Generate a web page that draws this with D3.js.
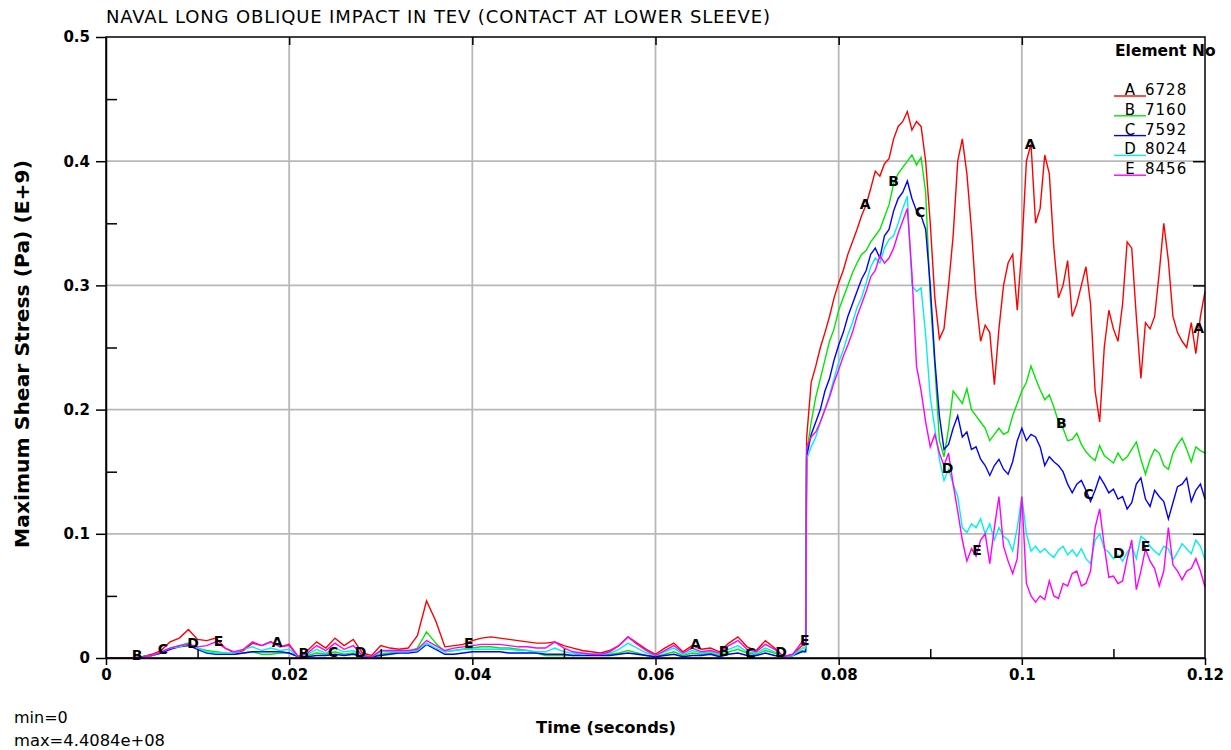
<!DOCTYPE html>
<html>
<head>
<meta charset="utf-8">
<script src="https://cdn.jsdelivr.net/npm/d3@7"></script>
<style>
  body { margin: 0; background: #fff; }
  text { font-family: "DejaVu Sans", sans-serif; }
</style>
</head>
<body>
<svg id="chart" width="1231" height="750"></svg>
<script>
// sample times: 1 ms steps before the impact, 0.5 ms steps after it
var earlyTime = d3.range(77).map(i => i / 1000);
var lateTime = d3.range(88).map(i => 0.0765 + i * 0.0005);
var time = earlyTime.concat([0.0764], lateTime);

// element 6728 (A)
var elemA = [
  0,0,0,0,0.001,0.003,0.006,0.013,0.016,0.023,
  0.015,0.014,0.016,0.008,0.004,0.006,0.012,0.010,0.013,0.009,
  0.011,0.001,0.006,0.013,0.008,0.016,0.010,0.015,0.004,0.002,
  0.010,0.008,0.007,0.008,0.018,0.046,0.030,0.009,0.010,0.011,
  0.014,0.016,0.017,0.016,0.015,0.014,0.013,0.012,0.012,0.013,
  0.010,0.008,0.006,0.005,0.004,0.006,0.010,0.017,0.012,0.007,
  0.003,0.008,0.012,0.005,0.010,0.007,0.008,0.005,0.012,0.017,
  0.009,0.006,0.014,0.008,0.001,0.003,0.010,
  0.010,
  0.177,0.222,0.235,0.250,0.262,0.275,0.290,0.302,0.312,0.325,
  0.335,0.345,0.356,0.365,0.378,0.392,0.388,0.398,0.402,0.418,
  0.428,0.432,0.440,0.425,0.432,0.428,0.400,0.350,0.290,0.257,
  0.265,0.300,0.340,0.400,0.418,0.390,0.345,0.290,0.255,0.268,
  0.262,0.220,0.265,0.300,0.318,0.325,0.280,0.330,0.400,0.414,
  0.350,0.362,0.405,0.390,0.330,0.290,0.300,0.320,0.275,0.285,
  0.300,0.315,0.285,0.215,0.190,0.250,0.280,0.265,0.255,0.285,
  0.335,0.330,0.275,0.225,0.270,0.265,0.275,0.310,0.350,0.320,
  0.275,0.262,0.255,0.250,0.270,0.245,0.275,0.295
];

// element 7160 (B)
var elemB = [
  0,0,0,0,0.001,0.002,0.004,0.008,0.010,0.012,
  0.008,0.006,0.005,0.004,0.003,0.004,0.005,0.003,0.003,0.004,
  0.004,0.001,0.002,0.004,0.003,0.005,0.003,0.004,0.001,0.001,
  0.003,0.004,0.005,0.005,0.008,0.021,0.012,0.005,0.006,0.007,
  0.008,0.009,0.009,0.008,0.008,0.007,0.006,0.004,0.002,0.002,
  0.002,0.002,0.003,0.003,0.003,0.003,0.004,0.006,0.004,0.002,
  0.001,0.003,0.005,0.002,0.004,0.003,0.004,0.002,0.005,0.007,
  0.004,0.003,0.006,0.004,0.001,0.002,0.006,
  0.006,
  0.165,0.190,0.210,0.225,0.240,0.255,0.265,0.280,0.290,0.300,
  0.310,0.318,0.325,0.328,0.335,0.340,0.345,0.355,0.365,0.382,
  0.390,0.395,0.400,0.405,0.397,0.403,0.375,0.290,0.235,0.175,
  0.162,0.185,0.215,0.210,0.205,0.217,0.200,0.195,0.190,0.185,
  0.175,0.180,0.185,0.180,0.182,0.195,0.205,0.215,0.222,0.235,
  0.225,0.216,0.208,0.212,0.202,0.190,0.185,0.175,0.176,0.181,
  0.172,0.166,0.162,0.159,0.171,0.163,0.160,0.157,0.165,0.159,
  0.162,0.168,0.174,0.160,0.148,0.160,0.168,0.165,0.155,0.152,
  0.165,0.172,0.177,0.168,0.158,0.170,0.167,0.165
];

// element 7592 (C)
var elemC = [
  0,0,0,0,0.001,0.002,0.004,0.007,0.009,0.010,
  0.007,0.004,0.003,0.003,0.003,0.004,0.005,0.005,0.005,0.005,
  0.004,0.001,0.001,0.002,0.002,0.003,0.002,0.003,0.001,0.001,
  0.002,0.003,0.004,0.004,0.005,0.011,0.007,0.003,0.003,0.004,
  0.005,0.005,0.005,0.005,0.004,0.004,0.004,0.004,0.003,0.003,
  0.003,0.002,0.002,0.002,0.002,0.002,0.003,0.004,0.003,0.002,
  0.001,0.002,0.003,0.001,0.002,0.002,0.003,0.001,0.003,0.004,
  0.002,0.002,0.004,0.002,0.001,0.002,0.005,
  0.005,
  0.162,0.180,0.190,0.200,0.215,0.225,0.240,0.252,0.262,0.275,
  0.285,0.295,0.305,0.312,0.325,0.330,0.322,0.340,0.345,0.360,
  0.370,0.375,0.384,0.370,0.360,0.356,0.345,0.300,0.240,0.195,
  0.168,0.172,0.185,0.195,0.178,0.182,0.168,0.170,0.160,0.155,
  0.147,0.155,0.160,0.152,0.148,0.158,0.175,0.185,0.175,0.180,
  0.178,0.170,0.155,0.162,0.158,0.155,0.150,0.140,0.133,0.140,
  0.143,0.135,0.126,0.135,0.146,0.140,0.133,0.136,0.128,0.130,
  0.120,0.125,0.140,0.145,0.128,0.122,0.135,0.130,0.126,0.112,
  0.125,0.138,0.140,0.145,0.126,0.135,0.140,0.128
];

// element 8024 (D)
var elemD = [
  0,0,0,0,0.001,0.002,0.005,0.008,0.009,0.011,
  0.008,0.005,0.004,0.004,0.004,0.007,0.009,0.006,0.008,0.006,
  0.007,0.001,0.003,0.007,0.004,0.008,0.005,0.006,0.002,0.001,
  0.005,0.005,0.005,0.005,0.006,0.012,0.008,0.005,0.006,0.007,
  0.007,0.007,0.007,0.007,0.007,0.006,0.006,0.005,0.005,0.008,
  0.005,0.004,0.003,0.003,0.003,0.004,0.007,0.012,0.008,0.004,
  0.002,0.005,0.008,0.003,0.006,0.004,0.005,0.003,0.007,0.010,
  0.005,0.004,0.008,0.005,0.001,0.002,0.008,
  0.008,
  0.160,0.170,0.178,0.190,0.200,0.212,0.225,0.238,0.248,0.260,
  0.270,0.282,0.290,0.302,0.315,0.322,0.318,0.330,0.337,0.340,
  0.350,0.362,0.372,0.300,0.295,0.298,0.260,0.210,0.185,0.160,
  0.143,0.152,0.140,0.130,0.105,0.101,0.108,0.105,0.112,0.100,
  0.108,0.095,0.105,0.098,0.095,0.086,0.105,0.130,0.100,0.086,
  0.090,0.085,0.088,0.084,0.081,0.087,0.090,0.083,0.087,0.082,
  0.088,0.080,0.076,0.095,0.100,0.088,0.085,0.080,0.083,0.078,
  0.085,0.090,0.080,0.098,0.095,0.090,0.086,0.083,0.090,0.088,
  0.079,0.085,0.092,0.088,0.084,0.095,0.090,0.079
];

// element 8456 (E)
var elemE = [
  0,0,0,0,0.001,0.002,0.005,0.008,0.010,0.011,
  0.009,0.010,0.013,0.008,0.005,0.007,0.013,0.010,0.013,0.009,
  0.010,0.001,0.004,0.010,0.006,0.012,0.007,0.010,0.002,0.001,
  0.006,0.006,0.006,0.006,0.007,0.014,0.010,0.006,0.008,0.009,
  0.010,0.011,0.011,0.011,0.010,0.009,0.009,0.008,0.008,0.013,
  0.008,0.005,0.004,0.003,0.003,0.005,0.010,0.017,0.011,0.006,
  0.002,0.006,0.010,0.004,0.008,0.005,0.006,0.004,0.010,0.014,
  0.007,0.005,0.011,0.007,0.001,0.003,0.013,
  0.012,
  0.170,0.178,0.182,0.190,0.200,0.210,0.222,0.232,0.243,0.252,
  0.262,0.275,0.285,0.295,0.307,0.312,0.324,0.318,0.322,0.330,
  0.342,0.352,0.362,0.310,0.235,0.215,0.190,0.170,0.180,0.165,
  0.155,0.165,0.140,0.118,0.095,0.078,0.088,0.082,0.095,0.100,
  0.076,0.105,0.130,0.090,0.078,0.068,0.080,0.130,0.060,0.050,
  0.045,0.050,0.047,0.062,0.050,0.048,0.060,0.058,0.068,0.070,
  0.058,0.060,0.070,0.105,0.120,0.090,0.065,0.066,0.060,0.062,
  0.080,0.095,0.055,0.070,0.088,0.078,0.072,0.058,0.070,0.105,
  0.075,0.070,0.063,0.070,0.072,0.080,0.070,0.057
];

var seriesLetters = ['A', 'B', 'C', 'D', 'E'];
var elementIds = ['6728', '7160', '7592', '8024', '8456'];
var seriesColors = ['#ff0000', '#00e800', '#0000ff', '#00f0f0', '#ff00ff'];
var allSeries = [elemA, elemB, elemC, elemD, elemE];

// letters printed along the curves
var labelLetters = ['B','C','D','E','A','B','C','D','E','A','B','C','D','E',
                    'A','B','C','D','E','A','B','C','D','E','A'];
var labelTimes = [0.0034,0.0062,0.0095,0.0123,0.0187,0.0216,0.0248,0.0278,0.0396,
                  0.0644,0.0675,0.0704,0.0737,0.0763,
                  0.0829,0.0860,0.0889,0.0919,0.0951,0.1009,0.1043,0.1073,0.1106,0.1135,0.1193];

var xTicks = [0, 0.02, 0.04, 0.06, 0.08, 0.1, 0.12];
var xMinor = [0.01, 0.03, 0.05, 0.07, 0.09, 0.11];
var yTicks = [0, 0.1, 0.2, 0.3, 0.4, 0.5];
var yMinor = [0.05, 0.15, 0.25, 0.35, 0.45];

var svg = d3.select('#chart');

var x = d3.scaleLinear().domain([0, 0.12]).range([106, 1205]);
var y = d3.scaleLinear().domain([0, 0.5]).range([658, 37]);

// gray grid
svg.append('g')
  .selectAll('line')
  .data(xTicks.slice(1, -1))
  .enter()
  .append('line')
    .attr('x1', d => x(d)).attr('x2', d => x(d))
    .attr('y1', y(0)).attr('y2', y(0.5))
    .attr('stroke', '#b8b8b8')
    .attr('stroke-width', 1.8);

svg.append('g')
  .selectAll('line')
  .data(yTicks.slice(1, -1))
  .enter()
  .append('line')
    .attr('x1', x(0)).attr('x2', x(0.12))
    .attr('y1', d => y(d)).attr('y2', d => y(d))
    .attr('stroke', '#b8b8b8')
    .attr('stroke-width', 1.8);

// curves
var line = d3.line()
  .x((d, i) => x(time[i]))
  .y(d => y(d));

allSeries.forEach((s, k) => {
  svg.append('path')
    .datum(s)
    .attr('d', line)
    .attr('fill', 'none')
    .attr('stroke', seriesColors[k])
    .attr('stroke-width', 1.4);
});

function valueAt(s, t) {
  var i = d3.bisectLeft(time, t);
  if (i <= 0) return s[0];
  if (i >= time.length) return s[s.length - 1];
  var t0 = time[i - 1], t1 = time[i];
  return s[i - 1] + (s[i] - s[i - 1]) * (t - t0) / (t1 - t0);
}

svg.append('g')
  .selectAll('text')
  .data(labelTimes)
  .enter()
  .append('text')
    .attr('x', d => x(d))
    .attr('y', (d, i) => y(valueAt(allSeries[seriesLetters.indexOf(labelLetters[i])], d)) - 3)
    .attr('text-anchor', 'middle')
    .attr('dominant-baseline', 'central')
    .attr('font-family', '"Liberation Sans", Arial, sans-serif')
    .attr('font-size', 14)
    .attr('font-weight', 'bold')
    .attr('fill', '#000')
    .text((d, i) => labelLetters[i]);

// frame
svg.append('rect')
  .attr('x', x(0)).attr('y', y(0.5))
  .attr('width', x(0.12) - x(0)).attr('height', y(0) - y(0.5))
  .attr('fill', 'none')
  .attr('stroke', '#000')
  .attr('stroke-width', 1.5);

// axes
var yAxis = svg.append('g')
  .attr('transform', `translate(${x(0)},0)`)
  .call(d3.axisLeft(y).tickValues(yTicks).tickSize(10).tickSizeOuter(0).tickPadding(6)
    .tickFormat(d => String(d)));
var xAxis = svg.append('g')
  .attr('transform', `translate(0,${y(0)})`)
  .call(d3.axisBottom(x).tickValues(xTicks).tickSize(7).tickSizeOuter(0).tickPadding(4)
    .tickFormat(d => String(d)));

[yAxis, xAxis].forEach(g => {
  g.attr('font-family', '"DejaVu Sans", sans-serif')
   .attr('font-size', 15)
   .attr('font-weight', 'bold');
  g.selectAll('line').attr('stroke-width', 1.5);
  g.select('.domain').attr('stroke-width', 1.5);
});

// inner ticks
svg.append('g')
  .attr('transform', `translate(${x(0)},0)`)
  .call(d3.axisRight(y).tickValues(yMinor).tickSize(11).tickFormat(''))
  .call(g => g.select('.domain').remove())
  .selectAll('line').attr('stroke-width', 1.5);
svg.append('g')
  .attr('transform', `translate(0,${y(0)})`)
  .call(d3.axisTop(x).tickValues(xMinor).tickSize(9).tickFormat(''))
  .call(g => g.select('.domain').remove())
  .selectAll('line').attr('stroke-width', 1.5);
svg.append('g')
  .attr('transform', `translate(0,${y(0.5)})`)
  .call(d3.axisBottom(x).tickValues(xTicks.slice(1, -1)).tickSize(8).tickFormat(''))
  .call(g => g.select('.domain').remove())
  .selectAll('line').attr('stroke-width', 1.5);
svg.append('g')
  .attr('transform', `translate(${x(0.12)},0)`)
  .call(d3.axisLeft(y).tickValues(yTicks.slice(1, -1)).tickSize(12).tickFormat(''))
  .call(g => g.select('.domain').remove())
  .selectAll('line').attr('stroke-width', 1.5);

// texts
svg.append('text')
  .attr('x', 106).attr('y', 23)
  .attr('font-family', '"Liberation Sans", Arial, sans-serif')
  .attr('font-size', 18)
  .attr('textLength', 664)
  .attr('lengthAdjust', 'spacing')
  .text('NAVAL LONG OBLIQUE IMPACT IN TEV (CONTACT AT LOWER SLEEVE)');

svg.append('text')
  .attr('transform', 'translate(29,354) rotate(-90)')
  .attr('text-anchor', 'middle')
  .attr('font-size', 19)
  .attr('font-weight', 'bold')
  .attr('textLength', 388)
  .attr('lengthAdjust', 'spacingAndGlyphs')
  .text('Maximum Shear Stress (Pa) (E+9)');

svg.append('text')
  .attr('x', 606).attr('y', 733)
  .attr('text-anchor', 'middle')
  .attr('font-size', 16)
  .attr('font-weight', 'bold')
  .attr('textLength', 140)
  .attr('lengthAdjust', 'spacingAndGlyphs')
  .text('Time (seconds)');

svg.append('text')
  .attr('x', 14).attr('y', 723)
  .attr('font-size', 16)
  .text('min=0');
svg.append('text')
  .attr('x', 14).attr('y', 746)
  .attr('font-size', 16)
  .attr('textLength', 151)
  .attr('lengthAdjust', 'spacingAndGlyphs')
  .text('max=4.4084e+08');

// legend
svg.append('text')
  .attr('x', 1115).attr('y', 56)
  .attr('font-size', 15.5)
  .attr('font-weight', 'bold')
  .text('Element No');

var legend = svg.append('g')
  .selectAll('g')
  .data(seriesLetters)
  .enter()
  .append('g')
    .attr('transform', (d, i) => `translate(0,${95 + i * 19.8})`);

legend.append('line')
  .attr('x1', 1114).attr('x2', 1146)
  .attr('y1', 1).attr('y2', 1)
  .attr('stroke', (d, i) => seriesColors[i])
  .attr('stroke-width', 1.4);
legend.append('text')
  .attr('x', 1130)
  .attr('text-anchor', 'middle')
  .attr('font-size', 15)
  .text(d => d);
legend.append('text')
  .attr('x', 1145)
  .attr('font-size', 15)
  .attr('letter-spacing', 1)
  .text((d, i) => elementIds[i]);
</script>
</body>
</html>
